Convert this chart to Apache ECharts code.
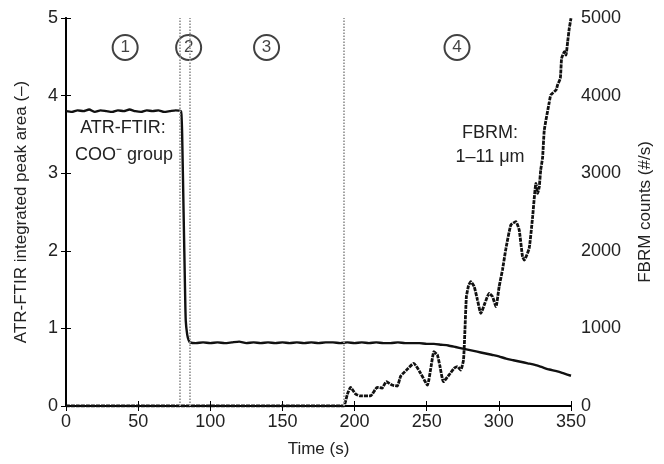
<!DOCTYPE html>
<html><head><meta charset="utf-8">
<script src="https://cdn.jsdelivr.net/npm/echarts@6/dist/echarts.min.js"></script>
<style>html,body{margin:0;padding:0;background:#fff}#c{width:664px;height:464px}</style>
</head><body><div id="c"></div>
<script>
const xTicks = [0, 50, 100, 150, 200, 250, 300, 350];
const leftTicks = [0, 1, 2, 3, 4, 5];
const rightTicks = [0, 1000, 2000, 3000, 4000, 5000];
const phaseBounds = [78.5, 85.5, 192.5];
const phaseLabels = ['1', '2', '3', '4'];
const phaseLabelX = [41, 85, 139, 271];
const phaseLabelY = [4.62, 4.62, 4.62, 4.62];

const atrTime = [0,4,8,12,16,20,24,28,32,36,40,44,48,52,56,60,64,68,72,76,79.5,80,80.5,81.5,82.5,83,84,85,86,
  90,95,100,105,110,115,120,125,130,135,140,145,150,155,160,165,170,175,180,185,190,195,200,205,210,215,220,225,230,235,240,245,250,
  255,260,265,270,275,280,285,290,295,300,305,310,315,320,325,330,335,340,345,350];
const atrValue = [3.80,3.79,3.81,3.80,3.82,3.79,3.81,3.80,3.79,3.81,3.80,3.82,3.80,3.79,3.81,3.80,3.81,3.79,3.80,3.81,3.80,3.76,3.5,2.5,1.5,1.1,0.92,0.85,0.82,
  0.81,0.82,0.81,0.82,0.81,0.82,0.83,0.81,0.82,0.81,0.82,0.81,0.82,0.81,0.82,0.81,0.82,0.81,0.82,0.82,0.81,0.82,0.81,0.82,0.81,0.82,0.81,0.81,0.82,0.81,0.81,0.81,0.80,
  0.80,0.79,0.78,0.76,0.74,0.72,0.70,0.68,0.66,0.64,0.61,0.59,0.57,0.55,0.53,0.50,0.47,0.45,0.42,0.39];

const fbrmTime = [0,50,100,150,190,192.6,195,197.2,200.7,204,211,215.7,219,222,226,229.6,232,236,241,245.8,250.5,253,255,257.4,259,261.6,265.5,269,271.3,273.6,275.5,
  276.4,277.5,279,280.5,282.9,285.2,287.5,290.3,293.3,295.6,298,300.2,302.5,304.9,308.3,311.8,314.1,316.4,317.6,321,323.4,325.7,326.9,328,329,330.3,
  331.5,335,336,339.6,340.7,342.6,343.5,345.4,346.5,347.7,348.8,350];
const fbrmValue = [0,0,0,0,0,0,150,241,155,130,130,241,230,313,270,258,387,464,550,421,270,507,700,657,528,313,400,485,507,464,593,
  937,1409,1550,1602,1538,1366,1194,1323,1452,1409,1280,1538,1753,2030,2332,2375,2268,1924,1881,2032,2439,2870,2741,2826,3041,3200,
  3557,3921,4008,4072,4137,4223,4480,4566,4523,4695,4867,4996];

const FONT = 'Liberation Sans, Arial, sans-serif';
const TXT = '#222';
const chart = echarts.init(document.getElementById('c'));
const atrData = atrTime.map((t, i) => [t, atrValue[i]]);
const fbrmData = fbrmTime.map((t, i) => [t, fbrmValue[i]]);
const phaseData = phaseLabelX.map((x, i) => ({value: [x, phaseLabelY[i]], label: {formatter: phaseLabels[i]}}));

chart.setOption({
  animation: false,
  backgroundColor: '#fff',
  textStyle: {fontFamily: FONT},
  grid: {left: 66, right: 93, top: 18, bottom: 58, containLabel: false, outerBoundsMode: 'none'},
  xAxis: [{
    type: 'value', min: 0, max: 350, interval: 50,
    name: 'Time (s)', nameLocation: 'middle', nameGap: 35,
    nameTextStyle: {fontSize: 17, color: TXT, fontFamily: FONT},
    axisLine: {show: true, lineStyle: {color: '#000', width: 1.8}},
    axisTick: {inside: true, length: 5, lineStyle: {color: '#000'}},
    axisLabel: {fontSize: 18, color: TXT, margin: 7, fontFamily: FONT, formatter: v => String(v)},
    splitLine: {show: false}
  }, {
    type: 'value', min: 0, max: 350, interval: 50, position: 'top',
    axisLine: {show: true, lineStyle: {color: '#000', width: 1.8}},
    axisTick: {inside: true, length: 5, lineStyle: {color: '#000'}},
    axisLabel: {show: false}, splitLine: {show: false}
  }],
  yAxis: [{
    type: 'value', min: 0, max: 5, interval: 1, position: 'left',
    name: 'ATR-FTIR integrated peak area (–)', nameLocation: 'middle', nameGap: 36,
    nameTextStyle: {fontSize: 17, color: TXT, fontFamily: FONT},
    axisLine: {show: true, lineStyle: {color: '#000', width: 1.8}},
    axisTick: {inside: true, length: 5, lineStyle: {color: '#000'}},
    axisLabel: {fontSize: 18, color: TXT, margin: 8, fontFamily: FONT, formatter: v => String(v)},
    splitLine: {show: false}
  }, {
    type: 'value', min: 0, max: 5000, interval: 1000, position: 'right',
    name: 'FBRM counts (#/s)', nameLocation: 'middle', nameGap: 66, nameRotate: 90,
    nameTextStyle: {fontSize: 17, color: TXT, fontFamily: FONT},
    axisLine: {show: true, lineStyle: {color: '#000', width: 1.8}},
    axisTick: {inside: true, length: 5, lineStyle: {color: '#000'}},
    axisLabel: {fontSize: 18, color: TXT, margin: 10, fontFamily: FONT, formatter: v => String(v)},
    splitLine: {show: false}
  }],
  series: [{
    type: 'line', name: 'ATR', xAxisIndex: 0, yAxisIndex: 0, data: atrData,
    showSymbol: false, smooth: 0.2, lineStyle: {color: '#111', width: 2.4},
    markLine: {
      silent: true, symbol: 'none', label: {show: false},
      lineStyle: {color: '#999', type: [1.5, 1.5], width: 1.8},
      data: phaseBounds.map(b => ({xAxis: b}))
    }
  }, {
    type: 'line', name: 'FBRM', xAxisIndex: 0, yAxisIndex: 1, data: fbrmData,
    showSymbol: false, smooth: 0.15, lineStyle: {color: '#111', width: 2.8, type: [4, 1]}
  }, {
    type: 'scatter', xAxisIndex: 0, yAxisIndex: 0, data: phaseData,
    symbol: 'circle', symbolSize: 25,
    itemStyle: {color: '#fff', borderColor: '#111', borderWidth: 2},
    label: {show: true, position: 'inside', fontSize: 17, color: '#111', fontFamily: FONT}
  }],
  graphic: [
    {type: 'text', x: 123, y: 128, z: 100, style: {text: 'ATR-FTIR:', font: '18px Liberation Sans, Arial, sans-serif', fill: TXT, textAlign: 'center', textVerticalAlign: 'middle'}},
    {type: 'text', x: 124, y: 155, z: 100, style: {text: 'COO⁻ group', font: '18px Liberation Sans, Arial, sans-serif', fill: TXT, textAlign: 'center', textVerticalAlign: 'middle'}},
    {type: 'text', x: 490, y: 133, z: 100, style: {text: 'FBRM:', font: '18px Liberation Sans, Arial, sans-serif', fill: TXT, textAlign: 'center', textVerticalAlign: 'middle'}},
    {type: 'text', x: 490, y: 157, z: 100, style: {text: '1–11 μm', font: '18px Liberation Sans, Arial, sans-serif', fill: TXT, textAlign: 'center', textVerticalAlign: 'middle'}}
  ]
});
</script></body></html>
